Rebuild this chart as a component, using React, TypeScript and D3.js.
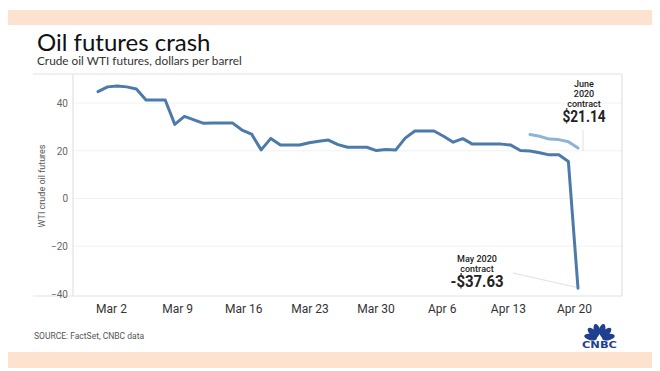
import React, { useEffect, useRef } from "react";
import * as d3 from "d3";

// May 2020 WTI contract, calendar days (weekends carry the Friday close)
const dates = [
  "2020-03-01", "2020-03-02", "2020-03-03", "2020-03-04", "2020-03-05", "2020-03-06", "2020-03-07",
  "2020-03-08", "2020-03-09", "2020-03-10", "2020-03-11", "2020-03-12", "2020-03-13", "2020-03-14",
  "2020-03-15", "2020-03-16", "2020-03-17", "2020-03-18", "2020-03-19", "2020-03-20", "2020-03-21",
  "2020-03-22", "2020-03-23", "2020-03-24", "2020-03-25", "2020-03-26", "2020-03-27", "2020-03-28",
  "2020-03-29", "2020-03-30", "2020-03-31", "2020-04-01", "2020-04-02", "2020-04-03", "2020-04-04",
  "2020-04-05", "2020-04-06", "2020-04-07", "2020-04-08", "2020-04-09", "2020-04-10", "2020-04-11",
  "2020-04-12", "2020-04-13", "2020-04-14", "2020-04-15", "2020-04-16", "2020-04-17", "2020-04-18",
  "2020-04-19", "2020-04-20",
];
const mayContract = [
  44.8, 46.8, 47.2, 46.8, 45.9, 41.3, 41.3,
  41.3, 31.1, 34.4, 33.0, 31.5, 31.7, 31.7,
  31.7, 28.7, 27.0, 20.4, 25.2, 22.4, 22.4,
  22.4, 23.4, 24.0, 24.5, 22.6, 21.5, 21.5,
  21.5, 20.1, 20.5, 20.3, 25.3, 28.3, 28.3,
  28.3, 26.1, 23.6, 25.1, 22.8, 22.8, 22.8,
  22.8, 22.4, 20.1, 19.9, 19.2, 18.3, 18.3,
  15.5, -37.63,
];

const juneDates = ["2020-04-15", "2020-04-16", "2020-04-17", "2020-04-18", "2020-04-19", "2020-04-20"];
const juneContract = [26.8, 26.1, 24.9, 24.7, 23.8, 21.14];

const xTicks = ["2020-03-02", "2020-03-09", "2020-03-16", "2020-03-23", "2020-03-30", "2020-04-06", "2020-04-13", "2020-04-20"];
const yTicks = [40, 20, 0, -20, -40];

const W = 660, H = 371;
const plot = { left: 73, right: 622, top: 74, bottom: 296, outer: 33 };

export default function App() {
  const ref = useRef<SVGSVGElement>(null);

  useEffect(() => {
    const svg = d3.select(ref.current);
    svg.selectAll("*").remove();

    const parse = d3.utcParse("%Y-%m-%d");
    const x = d3.scaleUtc()
      .domain([parse(dates[0])!, parse(dates[dates.length - 1])!])
      .range([98, 578]);
    // tick labels sit on a slightly tighter spacing than the line
    const xLabel = d3.scaleUtc()
      .domain([parse(xTicks[0])!, parse(xTicks[xTicks.length - 1])!])
      .range([111, 574]);
    const y = d3.scaleLinear().domain([-40, 40]).range([293.9, 103.1]);

    svg.append("rect").attr("width", W).attr("height", H).attr("fill", "#fff");

    // peach bands
    svg.append("rect").attr("x", 8).attr("y", 10).attr("width", 644).attr("height", 15).attr("fill", "#fde3cf");
    svg.append("rect").attr("x", 8).attr("y", 352).attr("width", 644).attr("height", 16).attr("fill", "#fde3cf");

    svg.append("text")
      .attr("x", 37).attr("y", 51)
      .attr("font-family", "Lato, sans-serif").attr("font-size", 24).attr("fill", "#111")
      .text("Oil futures crash");
    svg.append("text")
      .attr("x", 37).attr("y", 65)
      .attr("font-family", "Lato, sans-serif").attr("font-size", 11.8).attr("fill", "#333")
      .text("Crude oil WTI futures, dollars per barrel");

    // gridlines
    svg.append("g").selectAll("line").data(yTicks.slice(0, 4)).join("line")
      .attr("x1", plot.left).attr("x2", plot.right)
      .attr("y1", d => y(d)).attr("y2", d => y(d))
      .attr("stroke", "#f1f1f1");

    // frame
    const frame = svg.append("g").attr("stroke", "#e2e2e2").attr("stroke-width", 1.2);
    frame.append("line").attr("x1", plot.outer).attr("x2", plot.right).attr("y1", plot.top).attr("y2", plot.top);
    frame.append("line").attr("x1", plot.outer).attr("x2", plot.right).attr("y1", plot.bottom).attr("y2", plot.bottom);
    frame.append("line").attr("x1", plot.left).attr("x2", plot.left).attr("y1", plot.top).attr("y2", plot.bottom);
    frame.append("line").attr("x1", plot.right).attr("x2", plot.right).attr("y1", plot.top).attr("y2", plot.bottom);

    // y axis
    const yAxis = svg.append("g")
      .attr("transform", `translate(${plot.left},0)`)
      .call(d3.axisLeft(y).tickValues(yTicks).tickSize(0).tickPadding(5));
    yAxis.select(".domain").remove();
    yAxis.selectAll("text")
      .attr("font-family", "Roboto, sans-serif").attr("font-size", 10).attr("fill", "#666");

    svg.append("text")
      .attr("transform", `translate(45,186)rotate(-90)`)
      .attr("text-anchor", "middle")
      .attr("font-family", "Roboto, sans-serif").attr("font-size", 9).attr("fill", "#555")
      .text("WTI crude oil futures");

    // x axis
    const xAxis = svg.append("g")
      .attr("transform", `translate(0,${plot.bottom})`)
      .call(d3.axisBottom(xLabel)
        .tickValues(xTicks.map(d => parse(d)!))
        .tickFormat(d => d3.utcFormat("%b %-d")(d as Date))
        .tickSize(0).tickPadding(8));
    xAxis.select(".domain").remove();
    xAxis.selectAll("text")
      .attr("font-family", "Roboto, sans-serif").attr("font-size", 12).attr("fill", "#333");

    // lines
    const line = d3.line<[string, number]>()
      .x(d => x(parse(d[0])!))
      .y(d => y(d[1]));

    svg.append("path")
      .datum(juneDates.map((d, i) => [d, juneContract[i]] as [string, number]))
      .attr("d", line)
      .attr("fill", "none").attr("stroke", "#8cb4d6").attr("stroke-width", 3)
      .attr("stroke-linejoin", "round").attr("stroke-linecap", "round");

    svg.append("path")
      .datum(dates.map((d, i) => [d, mayContract[i]] as [string, number]))
      .attr("d", line)
      .attr("fill", "none").attr("stroke", "#4c7aab").attr("stroke-width", 3)
      .attr("stroke-linejoin", "round").attr("stroke-linecap", "round");

    // annotations
    const lastX = x(parse(dates[dates.length - 1])!);
    const june = svg.append("g").attr("text-anchor", "middle").attr("fill", "#222");
    june.append("line")
      .attr("x1", lastX + 5).attr("x2", lastX + 5)
      .attr("y1", 130).attr("y2", y(juneContract[juneContract.length - 1]) + 3)
      .attr("stroke", "#e0e0e0");
    ["June", "2020", "contract"].forEach((t, i) => {
      june.append("text").attr("x", 584).attr("y", 87 + i * 10)
        .attr("font-family", "Roboto, sans-serif").attr("font-size", 9).attr("font-weight", 500)
        .text(t);
    });
    june.append("text").attr("x", 584).attr("y", 122)
      .attr("textLength", 43).attr("lengthAdjust", "spacingAndGlyphs")
      .attr("font-family", "Roboto, sans-serif").attr("font-size", 16.5).attr("font-weight", 700)
      .text("$" + juneContract[juneContract.length - 1].toFixed(2));

    const may = svg.append("g").attr("text-anchor", "middle").attr("fill", "#222");
    may.append("line")
      .attr("x1", 513).attr("y1", 273)
      .attr("x2", lastX - 2).attr("y2", y(mayContract[mayContract.length - 1]) - 1)
      .attr("stroke", "#e0e0e0");
    ["May 2020", "contract"].forEach((t, i) => {
      may.append("text").attr("x", 477).attr("y", 262 + i * 10)
        .attr("font-family", "Roboto, sans-serif").attr("font-size", 9).attr("font-weight", 500)
        .text(t);
    });
    may.append("text").attr("x", 477).attr("y", 287)
      .attr("textLength", 53).attr("lengthAdjust", "spacingAndGlyphs")
      .attr("font-family", "Roboto, sans-serif").attr("font-size", 16.5).attr("font-weight", 700)
      .text("-$" + Math.abs(mayContract[mayContract.length - 1]).toFixed(2));

    svg.append("text")
      .attr("x", 34).attr("y", 339)
      .attr("font-family", "Roboto, sans-serif").attr("font-size", 8.5).attr("fill", "#555")
      .text("SOURCE: FactSet, CNBC data");

    // CNBC peacock
    const logo = svg.append("g").attr("transform", "translate(599.5,339)").attr("fill", "#1f3f8f");
    [-78, -47, -16, 16, 47, 78].forEach(a => {
      logo.append("ellipse")
        .attr("cx", 0).attr("cy", -9).attr("rx", 3.1).attr("ry", 6.6)
        .attr("transform", `rotate(${a})`);
    });
    logo.append("path").attr("d", "M-3,0 L0,-5 L3,0 Z").attr("fill", "#fff");
    svg.append("text")
      .attr("x", 582).attr("y", 348).attr("textLength", 35).attr("lengthAdjust", "spacingAndGlyphs")
      .attr("font-family", "'DejaVu Sans', sans-serif").attr("font-size", 9).attr("font-weight", 700)
      .attr("fill", "#1f3f8f")
      .text("CNBC");
  }, []);

  return (
    <svg ref={ref} width={W} height={H} style={{ position: "absolute", left: 0, top: 0 }} />
  );
}
